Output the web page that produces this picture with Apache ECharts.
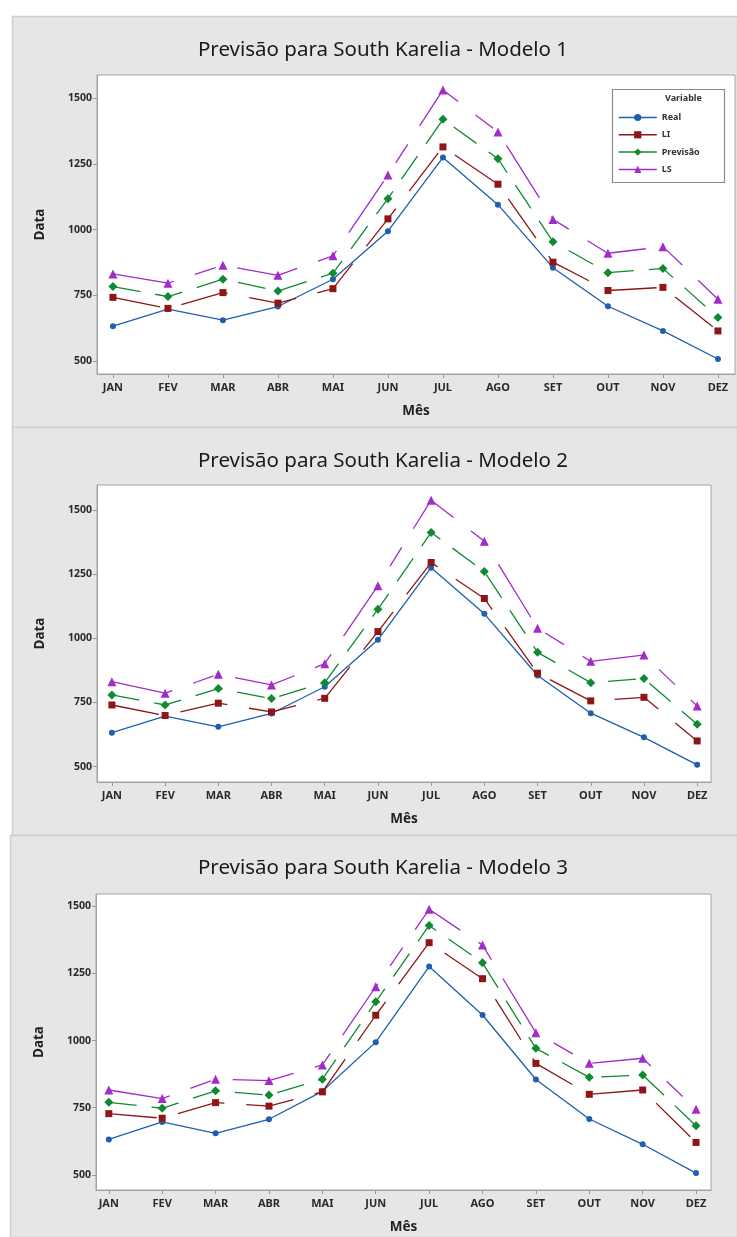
<!DOCTYPE html>
<html><head><meta charset="utf-8">
<script src="https://cdn.jsdelivr.net/npm/echarts@6/dist/echarts.min.js"></script>
<style>html,body{margin:0;padding:0;background:#fff}#c{width:737px;height:1237px}</style>
</head><body><div id="c"></div>
<script>
const months = ['JAN','FEV','MAR','ABR','MAI','JUN','JUL','AGO','SET','OUT','NOV','DEZ'];
const yTicks = [500, 750, 1000, 1250, 1500];
const seriesNames = ['Real', 'LI', 'Previsão', 'LS'];
const titles = ['Previsão para South Karelia - Modelo 1', 'Previsão para South Karelia - Modelo 2', 'Previsão para South Karelia - Modelo 3'];

const real = [632, 697, 655, 707, 811, 994, 1275, 1095, 855, 708, 614, 507];

const li1   = [742, 700, 760, 720, 775, 1041, 1315, 1173, 876, 768, 780, 614];
const prev1 = [783, 745, 811, 766, 834, 1118, 1420, 1270, 954, 836, 852, 665];
const ls1   = [831, 796, 864, 826, 900, 1208, 1532, 1372, 1039, 910, 935, 735];

const li2   = [740, 699, 747, 713, 766, 1026, 1295, 1155, 864, 756, 770, 600];
const prev2 = [779, 740, 804, 765, 827, 1113, 1412, 1260, 945, 827, 843, 665];
const ls2   = [831, 786, 860, 818, 901, 1205, 1538, 1378, 1039, 910, 935, 736];

const li3   = [728, 711, 769, 756, 809, 1094, 1364, 1230, 915, 800, 816, 621];
const prev3 = [770, 748, 813, 797, 856, 1144, 1428, 1289, 971, 863, 872, 683];
const ls3   = [816, 784, 856, 851, 909, 1200, 1488, 1355, 1029, 915, 934, 744];

const models = [
  [real, li1, prev1, ls1],
  [real, li2, prev2, ls2],
  [real, li3, prev3, ls3]
];

// layout (positions/styles)
const panels = [
  {bx: 12, by: 16, bw: 725, bh: 411, gl: 97, gt: 75, gw: 638, gh: 299, xmin: -0.29, xmax: 11.31, ymin: 450, ymax: 1589, ty: 35},
  {bx: 12, by: 427, bw: 725, bh: 408, gl: 97, gt: 485, gw: 614, gh: 297, xmin: -0.28, xmax: 11.26, ymin: 440, ymax: 1597, ty: 446},
  {bx: 10, by: 835, bw: 727, bh: 402, gl: 96, gt: 894, gw: 615, gh: 296, xmin: -0.24, xmax: 11.28, ymin: 444, ymax: 1545, ty: 853}
];
const styles = [
  {color: '#1f5fae', symbol: 'circle', size: 6, type: 'solid'},
  {color: '#8e1616', symbol: 'rect', size: 7, type: [48, 22]},
  {color: '#0f8a30', symbol: 'diamond', size: 9, type: [28, 15]},
  {color: '#a22bc9', symbol: 'triangle', size: 9, type: [62, 22, 22, 22]}
];

const FONT = "'Noto Sans', 'DejaVu Sans', sans-serif";
const idx = months.map((m, i) => i);

const grid = [], xAxis = [], yAxis = [], series = [], title = [], graphic = [];
panels.forEach((p, k) => {
  graphic.push({type: 'rect', z: -10, shape: {x: p.bx + 0.5, y: p.by + 0.5, width: p.bw, height: p.bh},
    style: {fill: '#e6e6e6', stroke: '#cdcdcd', lineWidth: 1.5}});
  title.push({text: titles[k], left: 378, top: p.ty, textAlign: 'center',
    textStyle: {fontFamily: FONT, fontSize: 20.5, fontWeight: 'normal', color: '#1a1a1a'}});
  grid.push({left: p.gl, top: p.gt, width: p.gw, height: p.gh, show: true,
    backgroundColor: '#ffffff', borderColor: '#a3a3a3', borderWidth: 1});
  xAxis.push({type: 'value', gridIndex: k, min: p.xmin, max: p.xmax,
    name: 'Mês', nameLocation: 'middle', nameGap: 30,
    nameTextStyle: {fontFamily: FONT, fontSize: 13.5, fontWeight: 'bold', color: '#222'},
    axisLine: {show: true, onZero: false, lineStyle: {color: '#a3a3a3'}},
    axisTick: {show: true, length: 4, customValues: idx, lineStyle: {color: '#999'}},
    axisLabel: {customValues: idx, formatter: v => months[Math.round(v)], margin: 8,
      fontFamily: FONT, fontSize: 11, fontWeight: 'bold', color: '#2a2a2a'},
    splitLine: {show: false}});
  yAxis.push({type: 'value', gridIndex: k, min: p.ymin, max: p.ymax,
    name: 'Data', nameLocation: 'middle', nameGap: 50,
    nameTextStyle: {fontFamily: FONT, fontSize: 13.5, fontWeight: 'bold', color: '#222'},
    axisLine: {show: true, onZero: false, lineStyle: {color: '#a3a3a3'}},
    axisTick: {show: true, length: 4, customValues: yTicks, lineStyle: {color: '#999'}},
    axisLabel: {customValues: yTicks, formatter: v => String(Math.round(v)), margin: 5,
      fontFamily: FONT, fontSize: 10.5, fontWeight: 'bold', color: '#2a2a2a'},
    splitLine: {show: false}});
  models[k].forEach((arr, s) => {
    const st = styles[s];
    series.push({name: seriesNames[s], type: 'line', xAxisIndex: k, yAxisIndex: k,
      data: arr.map((v, i) => [i, v]), symbol: st.symbol, symbolSize: st.size,
      showSymbol: true, animation: false, z: 2 + s,
      lineStyle: {color: st.color, width: 1.3, type: st.type},
      itemStyle: {color: st.color}, emphasis: {disabled: true}});
  });
});

// legend box (panel 1)
graphic.push({type: 'rect', z: 50, shape: {x: 612.5, y: 89.5, width: 112, height: 93},
  style: {fill: '#ffffff', stroke: '#8a8a8a', lineWidth: 1.2}});
graphic.push({type: 'text', z: 51, left: 665, top: 94,
  style: {text: 'Variable', fontFamily: FONT, fontSize: 9, fontWeight: 'bold', fill: '#333'}});

const chart = echarts.init(document.getElementById('c'), null, {renderer: 'canvas'});
chart.setOption({
  animation: false,
  backgroundColor: '#ffffff',
  title, grid, xAxis, yAxis, series, graphic,
  legend: {data: seriesNames, orient: 'vertical', left: 618, top: 113, z: 60,
    itemWidth: 38, itemHeight: 9, itemGap: 8.3, padding: 0,
    lineStyle: {type: 'solid', width: 1.5},
    textStyle: {fontFamily: FONT, fontSize: 9, fontWeight: 'bold', color: '#333'},
    selectedMode: false}
});
</script></body></html>
